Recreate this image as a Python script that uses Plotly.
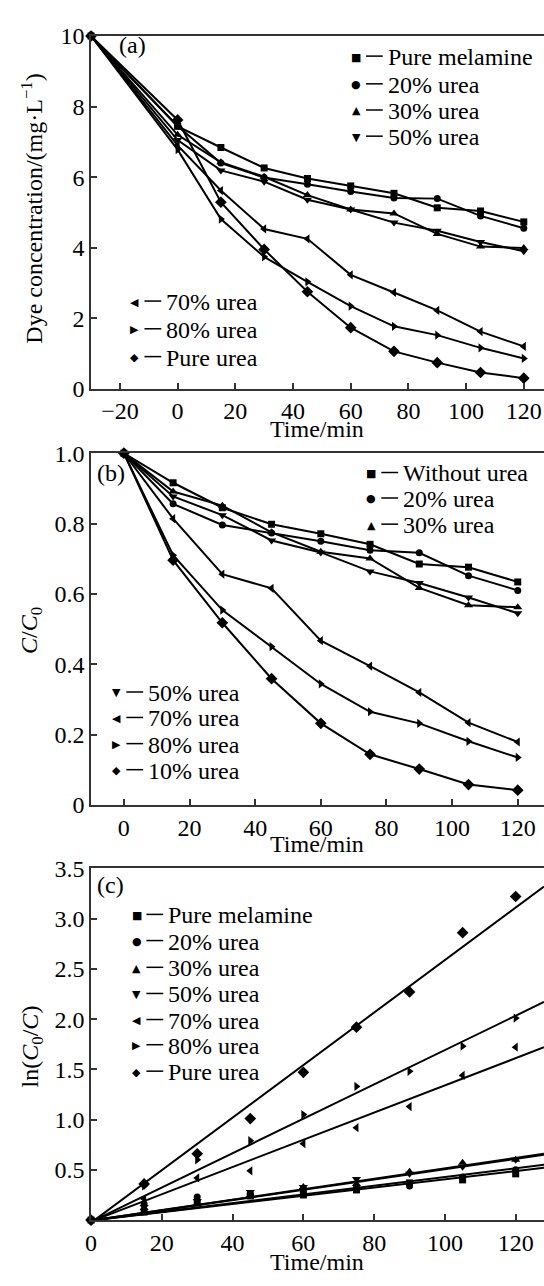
import plotly.graph_objects as go

W, H = 544, 1286
FONT = "Liberation Serif, Times New Roman, serif"
INK = "#000000"
AXC = "#333333"

# ---------------- data ----------------
t_a = [-30, 0, 15, 30, 45, 60, 75, 90, 105, 120]
a_melamine = [10, 7.44, 6.84, 6.26, 5.96, 5.75, 5.54, 5.13, 5.04, 4.73]
a_u20 = [10, 7.45, 6.40, 5.99, 5.80, 5.59, 5.41, 5.39, 4.90, 4.55]
a_u30 = [10, 7.20, 6.42, 6.01, 5.49, 5.08, 4.97, 4.39, 4.03, 3.99]
a_u50 = [10, 7.05, 6.19, 5.87, 5.36, 5.08, 4.71, 4.48, 4.16, 3.90]
a_u70 = [10, 6.90, 5.62, 4.53, 4.25, 3.23, 2.73, 2.22, 1.62, 1.20]
a_u80 = [10, 6.78, 4.81, 3.74, 3.03, 2.34, 1.77, 1.52, 1.16, 0.86]
a_urea = [10, 7.62, 5.29, 3.95, 2.75, 1.73, 1.06, 0.74, 0.46, 0.30]

t_b = [0, 15, 30, 45, 60, 75, 90, 105, 120]
b_without = [1.0, 0.916, 0.845, 0.798, 0.771, 0.741, 0.685, 0.676, 0.634]
b_u20 = [1.0, 0.856, 0.796, 0.773, 0.750, 0.724, 0.717, 0.652, 0.610]
b_u30 = [1.0, 0.891, 0.851, 0.775, 0.720, 0.701, 0.617, 0.568, 0.562]
b_u50 = [1.0, 0.877, 0.824, 0.752, 0.718, 0.664, 0.631, 0.590, 0.545]
b_u70 = [1.0, 0.814, 0.656, 0.616, 0.467, 0.395, 0.320, 0.234, 0.179]
b_u80 = [1.0, 0.710, 0.554, 0.450, 0.344, 0.265, 0.232, 0.181, 0.135]
b_u10 = [1.0, 0.696, 0.518, 0.359, 0.232, 0.144, 0.102, 0.058, 0.042]

t_c = [0, 15, 30, 45, 60, 75, 90, 105, 120]
c_melamine = [0, 0.08, 0.17, 0.24, 0.25, 0.30, 0.37, 0.40, 0.46]
c_u20 = [0, 0.16, 0.23, 0.26, 0.29, 0.32, 0.34, 0.43, 0.50]
c_u30 = [0, 0.12, 0.16, 0.25, 0.33, 0.36, 0.48, 0.57, 0.60]
c_u50 = [0, 0.13, 0.19, 0.28, 0.33, 0.41, 0.46, 0.53, 0.60]
c_u70 = [0, 0.21, 0.42, 0.49, 0.76, 0.92, 1.13, 1.44, 1.72]
c_u80 = [0, 0.34, 0.60, 0.79, 1.05, 1.33, 1.48, 1.73, 2.01]
c_urea = [0, 0.36, 0.66, 1.01, 1.47, 1.92, 2.27, 2.86, 3.22]

# fitted straight lines (start and end of each line)
fit_t = [1, 128]
fit_melamine = [0, 0.52]
fit_u20 = [0, 0.55]
fit_u30 = [0, 0.66]
fit_u50 = [0, 0.65]
fit_u70 = [0, 1.72]
fit_u80 = [0, 2.17]
fit_urea = [0, 3.32]

labels_a = ["Pure melamine", "20% urea", "30% urea", "50% urea", "70% urea", "80% urea", "Pure urea"]
labels_b = ["Without urea", "20% urea", "30% urea", "50% urea", "70% urea", "80% urea", "10% urea"]
labels_c = ["Pure melamine", "20% urea", "30% urea", "50% urea", "70% urea", "80% urea", "Pure urea"]

symbols = ["square", "circle", "triangle-up", "triangle-down", "triangle-left", "triangle-right", "diamond"]
glyphs = ["\u25A0", "\u25CF", "\u25B2", "\u25BC", "\u25C0", "\u25B6", "\u25C6"]
msize = [7, 7, 8, 8, 8, 8, 9]

# ---------------- layout helpers ----------------
def px(x):
    return x / W

def py(y):
    return 1 - y / H

fig = go.Figure()

series_a = [a_melamine, a_u20, a_u30, a_u50, a_u70, a_u80, a_urea]
series_b = [b_without, b_u20, b_u30, b_u50, b_u70, b_u80, b_u10]
series_c = [c_melamine, c_u20, c_u30, c_u50, c_u70, c_u80, c_urea]
fits_c = [fit_melamine, fit_u20, fit_u30, fit_u50, fit_u70, fit_u80, fit_urea]

for i, s in enumerate(series_a):
    fig.add_trace(go.Scatter(x=t_a, y=s, mode="lines+markers", xaxis="x", yaxis="y",
                             line=dict(color=INK, width=2),
                             marker=dict(symbol=symbols[i], size=msize[i], color=INK),
                             cliponaxis=False, showlegend=False, name=labels_a[i]))
for i, s in enumerate(series_b):
    fig.add_trace(go.Scatter(x=t_b, y=s, mode="lines+markers", xaxis="x2", yaxis="y2",
                             line=dict(color=INK, width=2),
                             marker=dict(symbol=symbols[i], size=msize[i], color=INK),
                             cliponaxis=False, showlegend=False, name=labels_b[i]))
for i, s in enumerate(fits_c):
    fig.add_trace(go.Scatter(x=fit_t, y=s, mode="lines", xaxis="x3", yaxis="y3",
                             line=dict(color=INK, width=2), showlegend=False,
                             name=labels_c[i] + " fit"))
for i, s in enumerate(series_c):
    fig.add_trace(go.Scatter(x=t_c, y=s, mode="markers", xaxis="x3", yaxis="y3",
                             marker=dict(symbol=symbols[i], size=msize[i], color=INK),
                             cliponaxis=False, showlegend=False, name=labels_c[i]))

tickfont = dict(family=FONT, size=24, color=INK)
common_x = dict(showline=True, mirror=True, linecolor=AXC, linewidth=1.5,
                ticks="inside", ticklen=6, tickwidth=1.5, tickcolor=AXC,
                showgrid=False, zeroline=False, tickfont=tickfont,
                domain=[px(86), 1.0])
common_y = dict(showline=True, mirror=False, linecolor=AXC, linewidth=1.5,
                ticks="inside", ticklen=6, tickwidth=1.5, tickcolor=AXC,
                showgrid=False, zeroline=False, tickfont=tickfont)

fig.update_layout(
    width=W, height=H, margin=dict(l=0, r=0, t=0, b=0),
    paper_bgcolor="white", plot_bgcolor="white",
    font=dict(family=FONT, size=24, color=INK),
    xaxis=dict(common_x, range=[-30, 127], tickvals=[-20, 0, 20, 40, 60, 80, 100, 120], anchor="y"),
    yaxis=dict(common_y, range=[0, 10], tickvals=[0, 2, 4, 6, 8, 10],
               domain=[py(383.5), py(23.5)], anchor="x"),
    xaxis2=dict(common_x, range=[-10, 128], tickvals=[0, 20, 40, 60, 80, 100, 120], anchor="y2"),
    yaxis2=dict(common_y, range=[0, 1.0], tickvals=[0, 0.2, 0.4, 0.6, 0.8, 1.0],
                ticktext=["0", "0.2", "0.4", "0.6", "0.8", "1.0"],
                domain=[py(808.3), py(449.3)], anchor="x2"),
    xaxis3=dict(common_x, range=[0, 128], tickvals=[0, 20, 40, 60, 80, 100, 120], anchor="y3"),
    yaxis3=dict(common_y, range=[0, 3.5], tickvals=[0.5, 1.0, 1.5, 2.0, 2.5, 3.0, 3.5],
                ticktext=["0.5", "1.0", "1.5", "2.0", "2.5", "3.0", "3.5"],
                domain=[py(1232), py(873)], anchor="x3"),
)

ann = []
shapes = []

def text(x, y, s, anchor="center", size=24, angle=0, family=FONT):
    ann.append(dict(x=px(x), y=py(y), xref="paper", yref="paper", text=s,
                    showarrow=False, xanchor=anchor, yanchor="middle", textangle=angle,
                    font=dict(family=family, size=size, color=INK)))

# axis titles
text(314, 425, "Time/min")
text(26, 200, "Dye concentration/(mg·L<sup>−1</sup>)", angle=-90)
text(314, 848, "Time/min")
text(26, 630, "<i>C</i>/<i>C</i><sub>0</sub>", angle=-90)
text(314, 1275, "Time/min")
text(26, 1055, "ln(<i>C</i><sub>0</sub>/<i>C</i>)", angle=-90)

# panel labels
text(128, 33, "(a)")
text(106, 470, "(b)")
text(106, 890, "(c)")

# legends: marker glyph, short dash, label
def legend_rows(mx, rows, idxs, labels):
    for y, i in zip(rows, idxs):
        text(mx, y, glyphs[i], size=11, family="DejaVu Sans")
        shapes.append(dict(type="line", xref="paper", yref="paper",
                           x0=px(mx + 10), x1=px(mx + 27), y0=py(y - 1), y1=py(y - 1),
                           line=dict(color=INK, width=1.5)))
        text(mx + 30, y, labels[i], anchor="left")

legend_rows(354, [45, 73.3, 100, 126.7], [0, 1, 2, 3], labels_a)
legend_rows(130, [295, 323.3, 351.7], [4, 5, 6], labels_a)
legend_rows(369.5, [470, 496, 522.7], [0, 1, 2], labels_b)
legend_rows(111.7, [694, 720, 746.7, 773.3], [3, 4, 5, 6], labels_b)
legend_rows(132, [921, 947.7, 975, 1001.7, 1028.3, 1054, 1081], [0, 1, 2, 3, 4, 5, 6], labels_c)

fig.update_layout(annotations=ann, shapes=shapes)
fig.write_html("out.html")
